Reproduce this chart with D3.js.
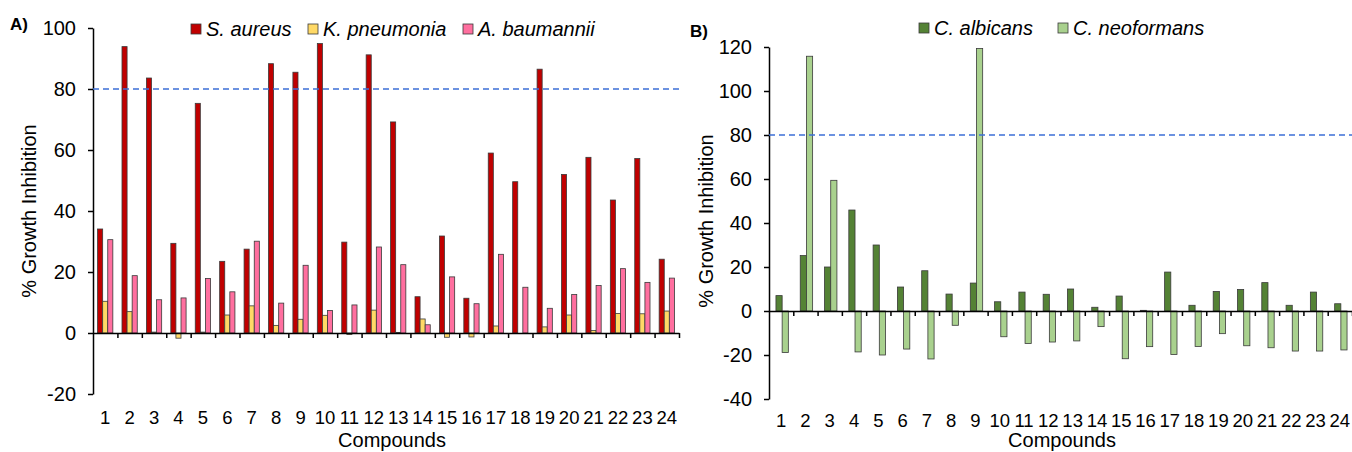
<!DOCTYPE html>
<html>
<head>
<meta charset="utf-8">
<script src="https://cdn.jsdelivr.net/npm/d3@7"></script>
<style>
  body { margin: 0; background: #fff; }
  svg { display: block; font-family: "Liberation Sans", Arial, sans-serif; }
</style>
</head>
<body>
<script>
(function() {

  var width = 1352;
  var height = 452;

  // data
  var compounds = d3.range(1, 25).map(String);

  var sAureus = [34.1, 93.9, 83.6, 29.4, 75.3, 23.5, 27.5, 88.3, 85.5, 94.9, 29.8, 91.2,
                 69.2, 11.9, 31.8, 11.4, 59.0, 49.6, 86.5, 52.0, 57.6, 43.6, 57.2, 24.2];
  var kPneumonia = [10.4, 7.0, 0.3, -1.7, 0.3, 5.9, 8.9, 2.5, 4.5, 5.8, -0.5, 7.5,
                    0.2, 4.6, -1.4, -1.3, 2.3, 0, 2.0, 5.9, 0.8, 6.4, 6.3, 7.2];
  var aBaumannii = [30.6, 18.8, 10.9, 11.5, 17.9, 13.5, 30.1, 9.8, 22.2, 7.4, 9.2, 28.2,
                    22.4, 2.7, 18.4, 9.6, 25.8, 15.0, 8.1, 12.6, 15.6, 21.1, 16.6, 18.0];

  var cAlbicans = [7.0, 25.2, 20.0, 45.9, 30.0, 10.9, 18.3, 7.7, 12.7, 4.2, 8.6, 7.6,
                   10.0, 1.7, 6.8, 0.3, 17.7, 2.6, 8.9, 9.8, 12.9, 2.6, 8.6, 3.3];
  var cNeoformans = [-18.9, 115.8, 59.4, -18.6, -20.0, -17.3, -21.8, -6.5, 119.3, -11.7, -14.8, -14.1,
                     -13.6, -7.1, -21.7, -16.2, -19.8, -16.1, -10.3, -15.8, -16.7, -18.2, -18.2, -17.7];

  var ticksA = [-20, 0, 20, 40, 60, 80, 100];
  var ticksB = [-40, -20, 0, 20, 40, 60, 80, 100, 120];
  var threshold = 80;

  var svg = d3.select('body').append('svg')
    .attr('width', width)
    .attr('height', height);

  /*
   * One grouped bar panel.
   */
  function drawPanel(opt) {

    var g = svg.append('g');

    var x0 = d3.scaleBand()
      .domain(compounds)
      .range([opt.left, opt.right])
      .padding(0);

    var x1 = d3.scaleBand()
      .domain(opt.series.map(function(s) { return s.name; }))
      .range([0, x0.bandwidth()])
      .paddingInner(0)
      .paddingOuter(opt.outer);

    var y = d3.scaleLinear()
      .domain(opt.domain)
      .range([opt.bottom, opt.top]);

    // bars
    opt.series.forEach(function(s) {
      g.append('g').selectAll('rect')
        .data(s.values)
        .join('rect')
          .attr('x', function(d, i) { return x0(compounds[i]) + x1(s.name) + opt.shift; })
          .attr('y', function(d) { return y(Math.max(0, d)); })
          .attr('width', x1.bandwidth())
          .attr('height', function(d) { return Math.abs(y(d) - y(0)); })
          .attr('fill', s.color)
          .attr('stroke', '#3a3a3a')
          .attr('stroke-width', 0.8);
    });

    // zero line with boundary ticks
    var xb = d3.scaleLinear().domain([0, compounds.length]).range([opt.left, opt.right]);
    var xAxis = g.append('g')
      .attr('transform', 'translate(0,' + y(0) + ')')
      .call(d3.axisBottom(xb).tickValues(d3.range(1, compounds.length + 1)).tickSize(5).tickSizeOuter(0).tickFormat(''));
    xAxis.select('.domain').attr('stroke', '#000').attr('stroke-width', 1.5);
    xAxis.selectAll('.tick line').attr('stroke', '#000').attr('stroke-width', 1.5);

    // category labels at the bottom
    var lab = g.append('g')
      .attr('transform', 'translate(0,' + opt.bottom + ')')
      .call(d3.axisBottom(x0).tickSize(0).tickPadding(opt.labelPad));
    lab.select('.domain').remove();
    lab.selectAll('text')
      .attr('font-family', '"Liberation Sans", Arial, sans-serif')
      .attr('font-size', 18.5)
      .attr('fill', '#000');

    // y axis
    var yAxis = g.append('g')
      .attr('transform', 'translate(' + opt.left + ',0)')
      .call(d3.axisLeft(y).tickValues(opt.ticks).tickSize(5).tickSizeOuter(0).tickPadding(12)
        .tickFormat(function(d) { return String(d); }));
    yAxis.select('.domain').attr('stroke', '#000').attr('stroke-width', 1.5);
    yAxis.selectAll('.tick line').attr('stroke', '#000').attr('stroke-width', 1.5);
    yAxis.selectAll('text')
      .attr('font-family', '"Liberation Sans", Arial, sans-serif')
      .attr('font-size', 20)
      .attr('fill', '#000');

    // 80% threshold
    g.append('line')
      .attr('x1', opt.left)
      .attr('x2', opt.right)
      .attr('y1', y(threshold))
      .attr('y2', y(threshold))
      .attr('stroke', '#3C6FD6')
      .attr('stroke-width', 1.6)
      .attr('stroke-dasharray', '6,4');

    // titles
    g.append('text')
      .attr('transform', 'translate(' + opt.yTitleX + ',' + opt.yTitleY + ') rotate(-90)')
      .attr('text-anchor', 'middle')
      .attr('font-size', 20)
      .text('% Growth Inhibition');

    g.append('text')
      .attr('x', opt.xTitleX)
      .attr('y', opt.xTitleY)
      .attr('text-anchor', 'middle')
      .attr('font-size', 20)
      .text('Compounds');

    g.append('text')
      .attr('x', opt.panelX)
      .attr('y', opt.panelY)
      .attr('font-size', 17)
      .attr('font-weight', 'bold')
      .text(opt.panel);

    // legend
    opt.series.forEach(function(s, i) {
      var lx = opt.legendX[i];
      g.append('rect')
        .attr('x', lx)
        .attr('y', opt.legendY - 12)
        .attr('width', 10)
        .attr('height', 10)
        .attr('fill', s.color)
        .attr('stroke', '#3a3a3a')
        .attr('stroke-width', 0.8);
      g.append('text')
        .attr('x', lx + 15)
        .attr('y', opt.legendY)
        .attr('font-size', 20)
        .attr('font-style', 'italic')
        .text(s.name);
    });
  }

  drawPanel({
    panel: 'A)', panelX: 10, panelY: 30,
    left: 93, right: 679, top: 28, bottom: 394,
    domain: [-20, 100], ticks: ticksA,
    outer: 0.9, shift: 0, labelPad: 17,
    series: [
      { name: 'S. aureus', values: sAureus, color: '#C00000' },
      { name: 'K. pneumonia', values: kPneumonia, color: '#FFD966' },
      { name: 'A. baumannii', values: aBaumannii, color: '#FF6F9F' }
    ],
    legendX: [191, 308, 463], legendY: 36,
    yTitleX: 36, yTitleY: 211,
    xTitleX: 392, xTitleY: 447
  });

  drawPanel({
    panel: 'B)', panelX: 690, panelY: 37,
    left: 769, right: 1352, top: 47, bottom: 399,
    domain: [-40, 120], ticks: ticksB,
    outer: 0.96, shift: 1, labelPad: 15,
    series: [
      { name: 'C. albicans', values: cAlbicans, color: '#548235' },
      { name: 'C. neoformans', values: cNeoformans, color: '#A9D18E' }
    ],
    legendX: [919, 1058], legendY: 35,
    yTitleX: 713, yTitleY: 221,
    xTitleX: 1062, xTitleY: 447
  });

})();
</script>
</body>
</html>
